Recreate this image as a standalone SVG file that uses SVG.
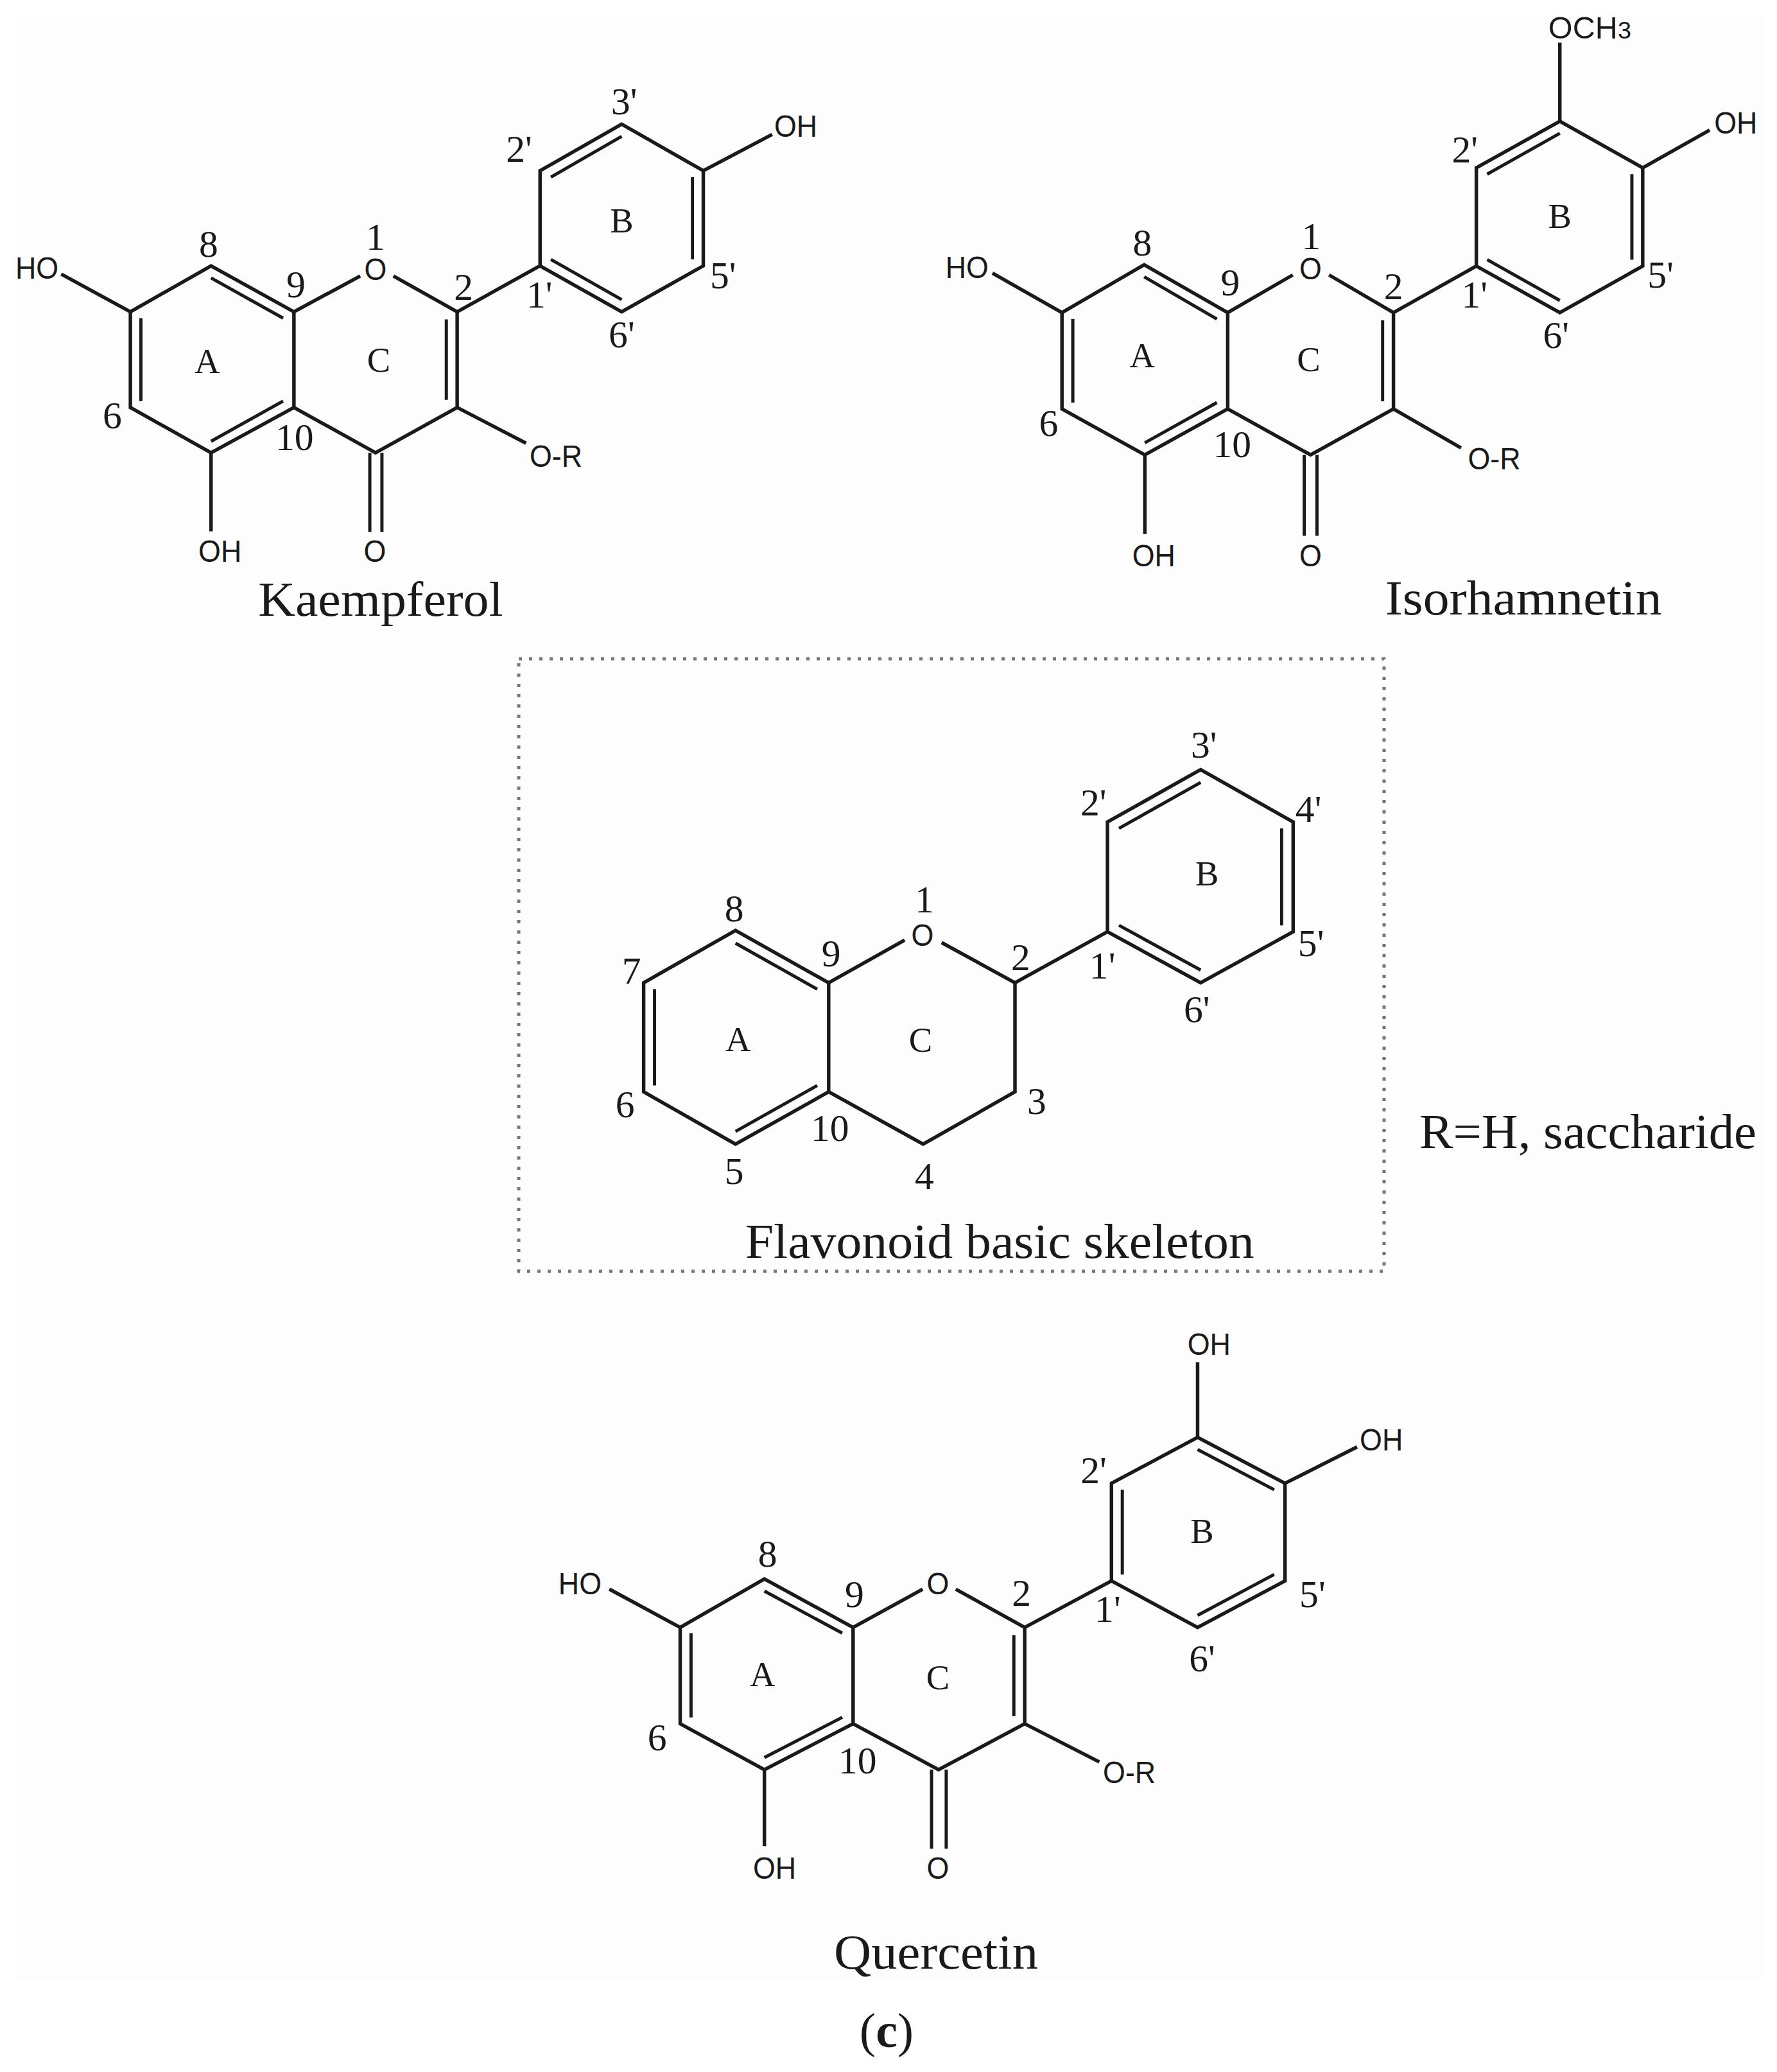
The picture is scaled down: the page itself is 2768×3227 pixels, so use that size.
<svg xmlns="http://www.w3.org/2000/svg" width="2768" height="3227" viewBox="0 0 2768 3227">
<defs><style>
.b{fill:none;stroke:#1a1a1a;stroke-width:5.5;stroke-linejoin:miter;stroke-linecap:butt}
.i{fill:none;stroke:#1a1a1a;stroke-width:5}
text{fill:#1a1a1a;text-anchor:middle}
.a{font-family:"Liberation Sans",Arial,sans-serif;font-size:49px;transform-box:fill-box;transform-origin:center;transform:scaleX(.92)}
.n{font-family:"Liberation Serif","Times New Roman",serif;font-size:60px}
.r{font-family:"Liberation Serif","Times New Roman",serif;font-size:55px}
.t{font-family:"Liberation Serif","Times New Roman",serif;font-size:76px;text-anchor:start}
</style></defs>
<rect width="2768" height="3227" fill="#fff"/>
<rect x="24" y="22" width="2722" height="3064" fill="#fdfdfd"/>

<g id="kaempferol" transform="translate(0 .63) scale(.9932 .9937)">
<g id="kaempferol-bonds">
<path class="b" d="M565 432L461 488L461 638L589 709L717 638L717 488L617 432M461 488L331 416L204.500 488L204.500 638L331 709L461 638M717 488L847 416L847 267L975 194L1103 267L1103 416L975 488L847 416"/>
<path class="b" d="M204.500 488L96 429M1103 267L1211 210M717 638L825 694M331 709L331 832"/>
<path class="i" d="M221 498L221 628M331 435L444 498M444 628L331 691M700 500L700 626M864 406L975 469M864 277L975 213M1086 277L1086 406M580 709L580 833M599 709L599 833"/>
</g>
<text class="a" x="58" y="436">HO</text><text class="n" x="327" y="402">8</text><text class="n" x="589" y="391">1</text><text class="a" x="589" y="438">O</text>
<text class="n" x="464" y="465">9</text><text class="n" x="727" y="469">2</text><text class="n" x="846" y="481">1'</text><text class="n" x="814" y="253">2'</text>
<text class="n" x="979" y="179">3'</text><text class="a" x="1248" y="214">OH</text><text class="r" x="975" y="364">B</text><text class="n" x="1134" y="451">5'</text>
<text class="n" x="975" y="544">6'</text><text class="r" x="325" y="584">A</text><text class="r" x="594" y="582">C</text><text class="n" x="176" y="671">6</text>
<text class="n" x="462" y="705">10</text><text class="a" x="872" y="731">O-R</text><text class="a" x="345" y="880">OH</text><text class="a" x="588" y="880">O</text>
<text class="t" x="405" y="964" textLength="384" lengthAdjust="spacingAndGlyphs">Kaempferol</text>
</g>

<g id="isorhamnetin" transform="translate(9.8 0) scale(.993 .9936)">
<g id="isorhamnetin-bonds">
<path class="b" d="M2018 431L1916 490L1916 641L2046 713L2176 641L2176 490L2075 431M1916 490L1785 415L1656 490L1656 641L1786 713L1916 641M2176 490L2306 417L2306 263L2437 190L2567 263L2567 417L2437 490L2306 417"/>
<path class="b" d="M2437 190L2437 67M2567 263L2672 204M1656 490L1547 428M1786 713L1786 837M2176 641L2282 702"/>
<path class="i" d="M1673 500L1673 631M1785 434L1899 500M1899 631L1786 694M2159 502L2159 629M2323 407L2437 471M2323 273L2437 209M2550 273L2550 407M2036 713L2036 840M2056 713L2056 840"/>
</g>
<text class="a" x="2419" y="60" style="text-anchor:start;transform:none">OCH<tspan font-size="38">3</tspan></text>
<text class="n" x="2288" y="255">2'</text><text class="a" x="2713" y="209">OH</text><text class="r" x="2437" y="357">B</text><text class="n" x="1782" y="401">8</text>
<text class="n" x="2047" y="391">1</text><text class="a" x="2046" y="438">O</text><text class="a" x="1507" y="436">HO</text><text class="n" x="1920" y="463">9</text>
<text class="n" x="2176" y="469">2</text><text class="n" x="2303" y="482">1'</text><text class="n" x="2595" y="451">5'</text><text class="n" x="2431" y="545">6'</text>
<text class="r" x="1782" y="576">A</text><text class="r" x="2043" y="582">C</text><text class="n" x="1635" y="683">6</text><text class="n" x="1923" y="717">10</text>
<text class="a" x="2334" y="736">O-R</text><text class="a" x="1800" y="888">OH</text><text class="a" x="2046" y="888">O</text>
<text class="t" x="2163" y="963" textLength="434" lengthAdjust="spacingAndGlyphs">Isorhamnetin</text>
</g>

<rect id="flavonoid-frame" x="808" y="1026" width="1348" height="954" fill="none" stroke="#777" stroke-width="5" stroke-dasharray="5 11"/>
<g id="flavonoid" transform="translate(4.84 6.4) scale(.9938 .9936)">
<g id="flavonoid-bonds">
<path class="b" d="M1413 1467L1294 1534L1294 1705L1442 1787L1586 1705L1586 1534L1471 1471M1294 1534L1148 1452L1004 1534L1004 1705L1148 1787L1294 1705M1586 1534L1731 1454L1731 1282L1877 1200L2022 1282L2022 1454L1877 1534L1731 1454"/>
<path class="i" d="M1021 1544L1021 1695M1148 1472L1276 1544M1276 1695L1148 1767M1749 1444L1877 1514M1749 1292L1877 1220M2004 1292L2004 1444"/>
</g>
<text class="n" x="1882" y="1181">3'</text><text class="n" x="1709" y="1272">2'</text><text class="n" x="2046" y="1282">4'</text><text class="r" x="1887" y="1381">B</text>
<text class="n" x="1146" y="1438">8</text><text class="n" x="1444" y="1424">1</text><text class="a" x="1441" y="1476">O</text><text class="n" x="985" y="1535">7</text>
<text class="n" x="1298" y="1508">9</text><text class="n" x="1595" y="1514">2</text><text class="n" x="1723" y="1527">1'</text><text class="n" x="2050" y="1492">5'</text>
<text class="n" x="1871" y="1596">6'</text><text class="r" x="1152" y="1641">A</text><text class="r" x="1438" y="1642">C</text><text class="n" x="975" y="1745">6</text>
<text class="n" x="1620" y="1740">3</text><text class="n" x="1296" y="1782">10</text><text class="n" x="1146" y="1849">5</text><text class="n" x="1444" y="1858">4</text>
<text class="t" x="1163" y="1965" textLength="798" lengthAdjust="spacingAndGlyphs">Flavonoid basic skeleton</text>
</g>

<g id="note"><text class="t" x="2211" y="1788" textLength="525" lengthAdjust="spacingAndGlyphs">R=H, saccharide</text></g>

<g id="quercetin" transform="translate(5.08 13.87) scale(.9938 .9932)">
<g id="quercetin-bonds">
<path class="b" d="M1441 2478L1332 2538L1332 2689L1466 2761L1601 2689L1601 2538L1493 2478M1332 2538L1193 2462L1061 2538L1061 2689L1193 2761L1332 2689M1601 2538L1737 2465L1737 2312L1872 2240L2009 2312L2009 2465L1872 2538L1737 2465"/>
<path class="b" d="M1872 2240L1872 2122M2009 2312L2122 2255M1061 2538L950 2478M1193 2761L1193 2881M1601 2689L1718 2749"/>
<path class="i" d="M1078 2547L1078 2679M1193 2481L1315 2547M1315 2679L1193 2742M1584 2550L1584 2677M1754 2455L1754 2322M1872 2259L1992 2322M1992 2455L1872 2519M1455 2761L1455 2885M1478 2761L1478 2885"/>
</g>
<text class="a" x="1890" y="2110">OH</text><text class="a" x="2160" y="2261">OH</text><text class="n" x="1709" y="2312">2'</text><text class="r" x="1879" y="2405">B</text>
<text class="n" x="1198" y="2443">8</text><text class="a" x="1465" y="2486">O</text><text class="a" x="904" y="2486">HO</text><text class="n" x="1334" y="2506">9</text>
<text class="n" x="1596" y="2504">2</text><text class="n" x="1731" y="2529">1'</text><text class="n" x="2052" y="2506">5'</text><text class="n" x="1879" y="2607">6'</text>
<text class="r" x="1190" y="2630">A</text><text class="r" x="1465" y="2635">C</text><text class="n" x="1025" y="2731">6</text><text class="n" x="1339" y="2767">10</text>
<text class="a" x="1765" y="2782">O-R</text><text class="a" x="1209" y="2932">OH</text><text class="a" x="1465" y="2932">O</text>
<text class="t" x="1302" y="3073" textLength="320" lengthAdjust="spacingAndGlyphs">Quercetin</text>
</g>
<text id="caption" class="t" x="1381" y="3188" style="text-anchor:middle">(<tspan font-weight="bold">c</tspan>)</text>
</svg>
